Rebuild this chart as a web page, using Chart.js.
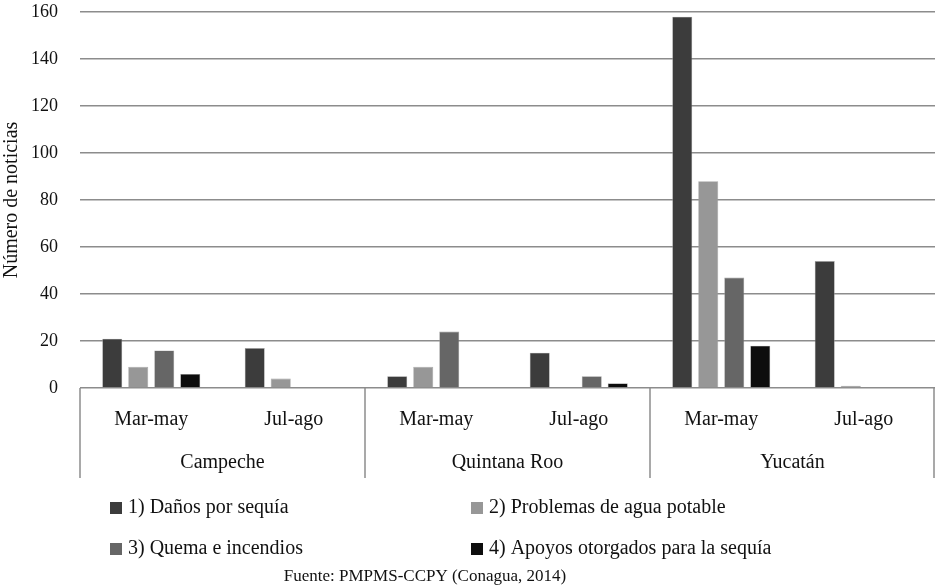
<!DOCTYPE html>
<html>
<meta name="viewport" content="width=device-width, initial-scale=1.0" />
<style>
	html, body {
		width: 100%;
		height: 100%;
		margin: 0;
		padding: 0;
		overflow: hidden;
		background: #fff;
	}
	#wrap {
		position: absolute;
		left: 0;
		top: 0;
		width: 936px;
		height: 588px;
	}
</style>
<script src="https://cdn.jsdelivr.net/npm/chart.js"></script>
<script>

	// Data
	var periods = ['Mar-may', 'Jul-ago', 'Mar-may', 'Jul-ago', 'Mar-may', 'Jul-ago'];
	var states = ['Campeche', 'Quintana Roo', 'Yucatán'];
	var danos = [21, 17, 5, 15, 158, 54];
	var agua = [9, 4, 9, 0, 88, 1];
	var quema = [16, 0, 24, 5, 47, 0];
	var apoyos = [6, 0, 0, 2, 18, 0];
	var seriesNames = ['1) Daños por sequía', '2) Problemas de agua potable', '3) Quema e incendios', '4) Apoyos otorgados para la sequía'];
	var yMax = 160;
	var yStep = 20;
	var source = 'Fuente: PMPMS-CCPY (Conagua, 2014)';

	var FONT = '"Liberation Serif", "Times New Roman", serif';
	var LINE = '#8c8c8c';

	// Draws the state row, dividers, legend and source note
	var extras = {
		id: 'extras',
		afterDraw: function (chart) {
			var ctx = chart.ctx;
			var area = chart.chartArea;
			var x = chart.scales.x;
			var per = periods.length / states.length;
			var catW = (area.right - area.left) / periods.length;
			ctx.save();

			// dividers below the axis
			ctx.strokeStyle = LINE;
			ctx.lineWidth = 1.5;
			for (var i = 0; i <= states.length; i++) {
				var px = x.getPixelForValue(i * per) - catW / 2;
				if (i == states.length) px = x.getPixelForValue(periods.length - 1) + catW / 2 - 1;
				ctx.beginPath();
				ctx.moveTo(px, area.bottom);
				ctx.lineTo(px, area.bottom + 90);
				ctx.stroke();
			}

			// state labels
			ctx.fillStyle = '#111';
			ctx.font = '20px ' + FONT;
			ctx.textAlign = 'center';
			ctx.textBaseline = 'middle';
			for (var s = 0; s < states.length; s++) {
				var a = x.getPixelForValue(s * per);
				var b = x.getPixelForValue(s * per + per - 1);
				ctx.fillText(states[s], (a + b) / 2, area.bottom + 75);
			}

			// legend, two columns
			var cols = [110, 471];
			var rows = [508, 549];
			ctx.font = '20px ' + FONT;
			ctx.textAlign = 'left';
			chart.data.datasets.forEach(function (ds, k) {
				var cx = cols[k % 2];
				var cy = rows[Math.floor(k / 2)];
				ctx.fillStyle = ds.backgroundColor;
				ctx.fillRect(cx, cy - 6, 12, 12);
				ctx.fillStyle = '#111';
				ctx.fillText(ds.label, cx + 18, cy);
			});

			// source
			ctx.font = '17px ' + FONT;
			ctx.textAlign = 'center';
			ctx.fillText(source, 425, 577);
			ctx.restore();
		}
	};

	window.onload = function () {

		var colors = ['#3c3c3c', '#979797', '#666666', '#0d0d0d'];
		var values = [danos, agua, quema, apoyos];
		var datasets = [];
		for (var i = 0; i < values.length; i++) {
			datasets.push({
				label: seriesNames[i],
				data: values[i],
				backgroundColor: colors[i],
				borderColor: '#a0a0a0',
				borderWidth: 0.6,
				categoryPercentage: 0.73,
				barPercentage: 0.77
			});
		}

		var config = {
			type: 'bar',
			data: { labels: periods, datasets: datasets },
			plugins: [extras],
			options: {
				responsive: false,
				animation: false,
				layout: {
					padding: { left: 0, right: 1, top: 0, bottom: 108 }
				},
				plugins: {
					legend: { display: false },
					tooltip: { enabled: false }
				},
				scales: {
					x: {
						grid: { display: false },
						border: { display: false },
						ticks: {
							color: '#111',
							font: { family: FONT, size: 20 },
							padding: 12,
							maxRotation: 0
						},
						afterFit: function (scale) { scale.height = 92; }
					},
					y: {
						min: 0,
						max: yMax,
						grid: { color: LINE, lineWidth: 1.5, drawTicks: false },
						border: { display: false },
						ticks: {
							stepSize: yStep,
							color: '#111',
							font: { family: FONT, size: 18 },
							padding: 22
						},
						title: {
							display: true,
							text: 'Número de noticias',
							color: '#111',
							font: { family: FONT, size: 20 },
							padding: 0
						},
						afterFit: function (scale) {
							scale.width = 80;
							scale.paddingTop = 12;
							scale.paddingBottom = 0;
						}
					}
				}
			}
		};

		new Chart(document.getElementById('myChart'), config);
	};

</script>
<body>
	<div id="wrap">
		<canvas id="myChart" width="936" height="588"></canvas>
	</div>
</body>
</html>
